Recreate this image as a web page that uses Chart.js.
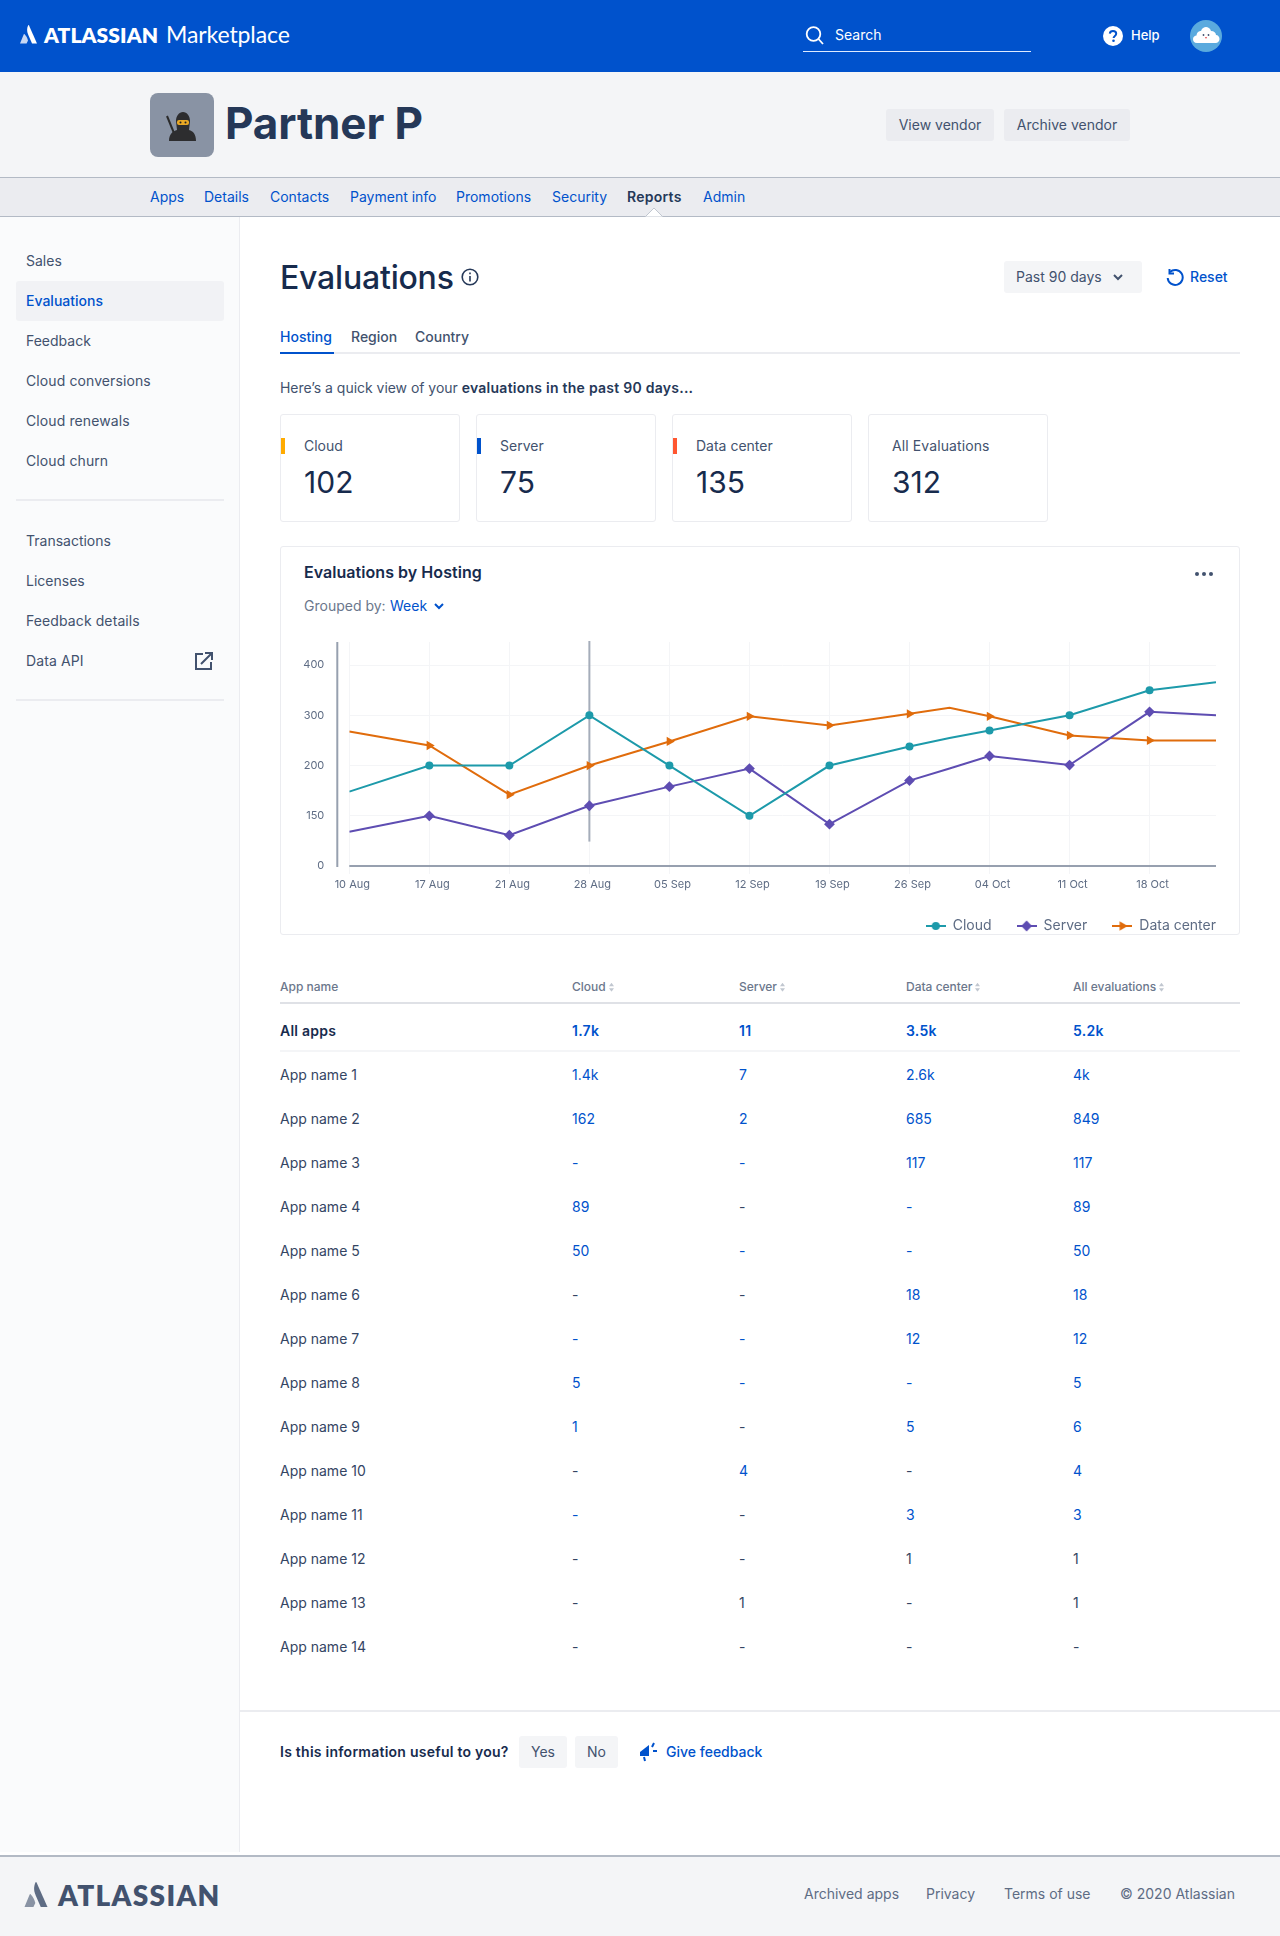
<!DOCTYPE html>
<html lang="en">
<head>
<meta charset="utf-8">
<title>Evaluations</title>
<script src="https://cdn.jsdelivr.net/npm/chart.js@4/dist/chart.umd.min.js"></script>
<style>
  html, body { margin: 0; padding: 0; }
  body { position: relative; width: 1280px; height: 1936px; overflow: hidden; background: #fff;
         font: 14px/1 Inter, "Noto Sans", sans-serif; color: #42526e; }
  .box { position: absolute; }
  .t { position: absolute; transform: translateY(-50%); white-space: nowrap; line-height: 1.2; }
  .blue { color: #0052cc; }
  .dark { color: #172b4d; }
  .med { font-weight: 500; }
  .bold { font-weight: 600; letter-spacing: .25px; }
  .btn { position: absolute; border-radius: 3px; background: #ebecf0; display: flex; align-items: center; justify-content: center; }
  .card { position: absolute; top: 414px; width: 178px; height: 106px; border: 1px solid #ebecf0; border-radius: 3px; background: #fff; }
  .accent { position: absolute; left: 0; top: 23px; width: 4px; height: 16px; }
  .th { font-size: 12px; color: #6b778c; font-weight: 500; }
  .sort { display: inline-block; width: 5px; height: 9px; margin-left: 3px; vertical-align: -1px; }
</style>
</head>
<body>

<!-- top bar -->
<div class="box" style="left:0;top:0;width:1280px;height:72px;background:#0052cc"></div>
<svg class="box" style="left:20px;top:25px" width="17" height="19" viewBox="0 0 17 19"><path d="M8.3 0C6.8 3 6.6 6 8.3 10L12 18.5H17L9 .6C8.7 0 8.4 0 8.3 0Z" fill="#fff"/><path d="M4.6 9.2C4.3 8.8 4 8.8 3.8 9.3L0 18.5H6.6L8 15.500C7.3 12.6 6 10.6 4.6 9.2Z" fill="#c8d8f3"/></svg>
<span class="t" style="left:44px;top:35px;font:800 21px/1.2 Lato,sans-serif;color:#fff;letter-spacing:.1px">ATLASSIAN</span>
<span class="t" style="left:166px;top:35px;font:400 23px/1.2 Lato,sans-serif;color:#fff;letter-spacing:-.1px">Marketplace</span>

<svg class="box" style="left:805px;top:26px" width="20" height="19" viewBox="0 0 20 19" fill="none" stroke="#fff" stroke-width="1.8"><circle cx="8.5" cy="8" r="6.8"/><path d="M13.5 13l4.5 5"/></svg>
<span class="t" style="left:835px;top:35px;color:#fff">Search</span>
<div class="box" style="left:803px;top:51px;width:228px;height:1px;background:#deebff"></div>
<svg class="box" style="left:1103px;top:26px" width="20" height="20" viewBox="0 0 20 20"><circle cx="10" cy="10" r="10" fill="#fff"/><path d="M6.8 7.6C7 5.7 8.4 5 10 5c1.8 0 3.2 1 3.2 2.7 0 2.3-2.6 2.3-2.6 4.4" fill="none" stroke="#0052cc" stroke-width="2"/><circle cx="10.5" cy="14.8" r="1.3" fill="#0052cc"/></svg>
<span class="t med" style="left:1131px;top:36px;color:#fff;font-size:13px">Help</span>
<svg class="box" style="left:1190px;top:20px" width="32" height="32" viewBox="0 0 32 32"><circle cx="16" cy="16" r="16" fill="#5aaade"/><path d="M7 23c-3 0-4-2-4-4s2-3.500 3.500-3.500C7 12 9 11 11 11c1-3 3-4 5-4s4 1 5 4c3 0 5 2 5 4 2 0 3.500 2 3.500 4s-1.500 4-4 4Z" fill="#fff"/><circle cx="13.500" cy="15" r=".9" fill="#42526e"/><circle cx="18.500" cy="15" r=".9" fill="#42526e"/><path d="M15 17h2l-1 2Z" fill="#e5484d"/></svg>

<!-- vendor band -->
<div class="box" style="left:0;top:72px;width:1280px;height:105px;background:#f4f5f7"></div>
<div class="box" style="left:150px;top:93px;width:64px;height:64px;border-radius:8px;background:#8993a4"></div>
<svg class="box" style="left:166px;top:111px" width="32" height="31" viewBox="0 0 32 31"><path d="M1 5l9 22" stroke="#2b2b2b" stroke-width="2"/><path d="M3 30c0-7 4-10 8-11l-1-9c0-5 3-9 7-9s7 4 7 9l-1 9c4 1 7 4 7 11Z" fill="#2d2d2f"/><rect x="11" y="9" width="12" height="5" rx="2" fill="#e9a825"/><circle cx="14.500" cy="11.500" r="1" fill="#222"/><circle cx="19.500" cy="11.500" r="1" fill="#222"/></svg>
<span class="t" style="left:225px;top:123px;font-size:44px;font-weight:700;color:#253858;letter-spacing:-.1px">Partner P</span>
<div class="btn" style="left:886px;top:109px;width:108px;height:32px">View vendor</div>
<div class="btn" style="left:1004px;top:109px;width:126px;height:32px">Archive vendor</div>

<!-- nav -->
<div class="box" style="left:0;top:177px;width:1280px;height:38px;background:#ebecf0;border-top:1px solid #b3bac5;border-bottom:1px solid #b3bac5"></div>
<span class="t blue" style="left:150px;top:197px">Apps</span>
<span class="t blue" style="left:204px;top:197px">Details</span>
<span class="t blue" style="left:270px;top:197px">Contacts</span>
<span class="t blue" style="left:350px;top:197px">Payment info</span>
<span class="t blue" style="left:456px;top:197px">Promotions</span>
<span class="t blue" style="left:552px;top:197px">Security</span>
<span class="t bold" style="left:627px;top:197px;color:#253858">Reports</span>
<span class="t blue" style="left:703px;top:197px">Admin</span>
<svg class="box" style="left:645px;top:207px" width="18" height="10" viewBox="0 0 18 10"><path d="M0 10L9 1l9 9Z" fill="#fff" stroke="#c1c7d0"/></svg>

<!-- sidebar -->
<div class="box" style="left:0;top:217px;width:239px;height:1635px;background:#fafbfc;border-right:1px solid #ebecf0"></div>
<div class="box" style="left:16px;top:281px;width:208px;height:40px;border-radius:3px;background:#f1f2f5"></div>
<span class="t" style="left:26px;top:261px">Sales</span>
<span class="t blue med" style="left:26px;top:301px">Evaluations</span>
<span class="t" style="left:26px;top:341px">Feedback</span>
<span class="t" style="left:26px;top:381px;letter-spacing:.1px">Cloud conversions</span>
<span class="t" style="left:26px;top:421px;letter-spacing:.1px">Cloud renewals</span>
<span class="t" style="left:26px;top:461px;letter-spacing:.1px">Cloud churn</span>
<div class="box" style="left:16px;top:499px;width:208px;height:2px;background:#ebecf0"></div>
<span class="t" style="left:26px;top:541px">Transactions</span>
<span class="t" style="left:26px;top:581px">Licenses</span>
<span class="t" style="left:26px;top:621px;letter-spacing:.1px">Feedback details</span>
<span class="t" style="left:26px;top:661px;letter-spacing:.1px">Data API</span>
<svg class="box" style="left:195px;top:652px" width="18" height="18" viewBox="0 0 18 18" fill="none" stroke="#42526e" stroke-width="2"><path d="M8 2H1v15h15v-7"/><path d="M6 12L16 2M10 1h7v7"/></svg>
<div class="box" style="left:16px;top:699px;width:208px;height:2px;background:#ebecf0"></div>

<!-- page heading -->
<span class="t dark med" style="left:280px;top:278px;font-size:32px;letter-spacing:-.2px">Evaluations</span>
<svg class="box" style="left:461px;top:268px" width="18" height="18" viewBox="0 0 18 18" fill="none" stroke="#253858" stroke-width="1.600"><circle cx="9" cy="9" r="7.800"/><path d="M9 8v5.500"/><path d="M9 4.500v1.800"/></svg>
<div class="btn" style="left:1004px;top:261px;width:138px;height:32px;background:#f4f5f7"></div>
<span class="t" style="left:1016px;top:277px">Past 90 days</span>
<svg class="box" style="left:1113px;top:274px" width="10" height="7" viewBox="0 0 10 7" fill="none" stroke="#42526e" stroke-width="2"><path d="M1 1l4 4 4-4"/></svg>
<svg class="box" style="left:1166px;top:268px" width="18" height="18" viewBox="0 0 18 18" fill="none" stroke="#0052cc" stroke-width="2"><path d="M4 4a7.500 7.500 0 1 1-2.300 6"/><path d="M3.500 1v4.500H8"/></svg>
<span class="t blue med" style="left:1190px;top:277px">Reset</span>

<!-- tabs -->
<div class="box" style="left:280px;top:352px;width:960px;height:2px;background:#ebecf0"></div>
<div class="box" style="left:280px;top:352px;width:54px;height:2px;background:#0052cc"></div>
<span class="t blue med" style="left:280px;top:337px">Hosting</span>
<span class="t med" style="left:351px;top:337px">Region</span>
<span class="t med" style="left:415px;top:337px">Country</span>

<span class="t" style="left:280px;top:388px;letter-spacing:-.03px">Here’s a quick view of your <b class="bold" style="color:#253858">evaluations in the past 90 days...</b></span>

<!-- summary cards -->
<div class="card" style="left:280px"><div class="accent" style="background:#ffab00"></div><span class="t" style="left:23px;top:31px">Cloud</span><span class="t dark" style="left:23px;top:67px;font-size:30px">102</span></div>
<div class="card" style="left:476px"><div class="accent" style="background:#0052cc"></div><span class="t" style="left:23px;top:31px">Server</span><span class="t dark" style="left:23px;top:67px;font-size:30px">75</span></div>
<div class="card" style="left:672px"><div class="accent" style="background:#ff5630"></div><span class="t" style="left:23px;top:31px">Data center</span><span class="t dark" style="left:23px;top:67px;font-size:30px">135</span></div>
<div class="card" style="left:868px"><span class="t" style="left:23px;top:31px;letter-spacing:.1px">All Evaluations</span><span class="t dark" style="left:23px;top:67px;font-size:30px">312</span></div>

<!-- chart card -->
<div class="box" style="left:280px;top:546px;width:958px;height:387px;border:1px solid #ebecf0;border-radius:3px"></div>
<span class="t dark bold" style="left:304px;top:573px;font-size:16px;letter-spacing:.05px">Evaluations by Hosting</span>
<svg class="box" style="left:1194px;top:571px" width="20" height="6" viewBox="0 0 20 6" fill="#42526e"><circle cx="3" cy="3" r="2"/><circle cx="10" cy="3" r="2"/><circle cx="17" cy="3" r="2"/></svg>
<span class="t" style="left:304px;top:606px;color:#6b778c">Grouped by:</span>
<span class="t blue" style="left:390px;top:606px">Week</span>
<svg class="box" style="left:434px;top:603px" width="10" height="7" viewBox="0 0 10 7" fill="none" stroke="#0052cc" stroke-width="2"><path d="M1 1l4 4 4-4"/></svg>
<canvas id="hostingChart" class="box" style="left:281px;top:547px" width="957" height="405"></canvas>

<!-- table -->
<div id="appTable"></div>
<div class="box" style="left:280px;top:1002px;width:960px;height:2px;background:#dfe1e6"></div>
<div class="box" style="left:280px;top:1050px;width:960px;height:2px;background:#f4f5f7"></div>

<!-- feedback -->
<div class="box" style="left:240px;top:1710px;width:1040px;height:2px;background:#ebecf0"></div>
<span class="t bold" style="left:280px;top:1752px;color:#172b4d">Is this information useful to you?</span>
<div class="btn" style="left:519px;top:1736px;width:48px;height:32px;background:#f4f5f7">Yes</div>
<div class="btn" style="left:575px;top:1736px;width:43px;height:32px;background:#f4f5f7">No</div>
<svg class="box" style="left:639px;top:1742px" width="21" height="20" viewBox="0 0 21 20"><path d="M1 10L10 3v11H1Z" fill="#0052cc"/><path d="M13 5l2-4M14 9h4M5 15l1 4" stroke="#0052cc" stroke-width="2" fill="none"/></svg>
<span class="t blue med" style="left:666px;top:1752px">Give feedback</span>

<!-- footer -->
<div class="box" style="left:0;top:1855px;width:1280px;height:81px;background:#f4f5f7;border-top:2px solid #b3bac5;box-sizing:border-box"></div>
<svg class="box" style="left:24px;top:1882px" width="24" height="25" viewBox="0 0 17 18.500"><path d="M8.300 0C6.800 3 6.600 6 8.300 10L12 18.500H17L9 .6C8.700 0 8.400 0 8.300 0Z" fill="#5e6c84"/><path d="M4.600 9.200C4.300 8.800 4 8.800 3.800 9.300L0 18.500H6.600L8 15.500C7.300 12.600 6 10.600 4.600 9.200Z" fill="#8993a4"/></svg>
<span class="t" style="left:58px;top:1896px;font:800 28px/1.2 Lato,sans-serif;color:#42526e;letter-spacing:1.3px">ATLASSIAN</span>
<span class="t" style="left:804px;top:1894px;color:#5e6c84">Archived apps</span>
<span class="t" style="left:926px;top:1894px;color:#5e6c84">Privacy</span>
<span class="t" style="left:1004px;top:1894px;color:#5e6c84">Terms of use</span>
<span class="t" style="left:1120px;top:1894px;color:#5e6c84">© 2020 Atlassian</span>

<script>
// chart data
const xPositions = [0, 1, 2, 3, 4, 5, 6, 7, 7.5, 8, 9, 10, 10.83];
const xTickLabels = ['10 Aug', '17 Aug', '21 Aug', '28 Aug', '05 Sep', '12 Sep', '19 Sep', '26 Sep', '04 Oct', '11 Oct', '18 Oct'];
const yTickValues = [0, 150, 200, 300, 400];
const cloudValues = [174, 200, 200, 300, 200, 150, 200, 238, 255, 270, 300, 350, 366];
const serverValues = [102, 150, 92, 160, 179, 197, 125, 185, 197, 219, 201, 307, 300];
const dataCenterValues = [268, 240, 171, 200, 248, 298, 280, 303, 315, 298, 260, 250, 250];
const seriesNames = ['Cloud', 'Server', 'Data center'];
const cursorTick = 3;

// table data
const tableColumns = ['App name', 'Cloud', 'Server', 'Data center', 'All evaluations'];
const totalRow = ['All apps', '1.7k', '11', '3.5k', '5.2k'];
const appRows = [
    ['App name 1', '1.4k', '7', '2.6k', '4k'],
    ['App name 2', '162', '2', '685', '849'],
    ['App name 3', '-', '-', '117', '117'],
    ['App name 4', '89', '-', '-', '89'],
    ['App name 5', '50', '-', '-', '50'],
    ['App name 6', '-', '-', '18', '18'],
    ['App name 7', '-', '-', '12', '12'],
    ['App name 8', '5', '-', '-', '5'],
    ['App name 9', '1', '-', '5', '6'],
    ['App name 10', '-', '4', '-', '4'],
    ['App name 11', '-', '-', '3', '3'],
    ['App name 12', '-', '-', '1', '1'],
    ['App name 13', '-', '1', '-', '1'],
    ['App name 14', '-', '-', '-', '-']
];
// cells that are plain text and not links, "row:column"
const plainCells = ['3:2', '5:1', '5:2', '8:2', '9:1', '9:3', '10:2', '11:1', '11:2', '11:3', '11:4',
    '12:1', '12:2', '12:3', '12:4', '13:1', '13:2', '13:3', '13:4'];

// ------------------------------------------------------------
// TABLE
// ------------------------------------------------------------
const columnLeft = [280, 572, 739, 906, 1073];
let tableHtml = '';
const sortIcon = '<svg class="sort" viewBox="0 0 5 9" fill="#c1c7d0"><path d="M2.5 0L5 3.500H0ZM2.500 9L0 5.500H5Z"/></svg>';
tableColumns.forEach(function(name, c) {
    tableHtml += '<span class="t th" style="left:' + columnLeft[c] + 'px;top:987px">' + name + (c ? sortIcon : '') + '</span>';
});
totalRow.forEach(function(cell, c) {
    tableHtml += '<span class="t bold ' + (c ? 'blue' : 'dark') + '" style="left:' + columnLeft[c] + 'px;top:1031px">' + cell + '</span>';
});
appRows.forEach(function(row, r) {
    row.forEach(function(cell, c) {
        const linked = c > 0 && !plainCells.includes(r + ':' + c);
        tableHtml += '<span class="t" style="left:' + columnLeft[c] + 'px;top:' + (1075 + r * 44) +
            'px;color:' + (linked ? '#0052cc' : '#344563') + '">' + cell + '</span>';
    });
});
document.getElementById('appTable').innerHTML = tableHtml;

// ------------------------------------------------------------
// CHART
// ------------------------------------------------------------
// the y axis is not linear: its labelled values sit at equal distances
function axisPosition(value) {
    let i = 0;
    while (i < yTickValues.length - 2 && value >= yTickValues[i + 1]) i++;
    return i + (value - yTickValues[i]) / (yTickValues[i + 1] - yTickValues[i]);
}

function toPoints(values) {
    return values.map(function(value, i) {
        return { x: xPositions[i], y: axisPosition(value) };
    });
}

function markerOnly(radius) {
    return function(ctx) {
        const x = xPositions[ctx.dataIndex];
        return Number.isInteger(x) && x > 0 ? radius : 0;
    };
}

function legendSwatch(color, style, radius, rotation) {
    const swatch = document.createElement('canvas');
    swatch.width = 20;
    swatch.height = 12;
    const c = swatch.getContext('2d');
    c.strokeStyle = color;
    c.fillStyle = color;
    c.lineWidth = 2;
    c.beginPath();
    c.moveTo(0, 6);
    c.lineTo(20, 6);
    c.stroke();
    Chart.helpers.drawPoint(c, { pointStyle: style, radius: radius, rotation: rotation, borderWidth: 0 }, 10, 6);
    return swatch;
}

const legendPadding = 25;

const axisLines = {
    id: 'axisLines',
    // the legend keeps a padding after its last item, let it end on the plot's right edge
    afterLayout: function(chart) {
        chart.legend.right = chart.chartArea.right + legendPadding;
    },
    beforeDatasetsDraw: function(chart) {
        const ctx = chart.ctx;
        const area = chart.chartArea;
        const cursorX = chart.scales.x.getPixelForValue(cursorTick);
        ctx.save();
        ctx.strokeStyle = '#97a0af';
        ctx.lineWidth = 2;
        ctx.beginPath();
        ctx.moveTo(area.left - 12, area.top);
        ctx.lineTo(area.left - 12, area.bottom + 1);
        ctx.moveTo(area.left, area.bottom);
        ctx.lineTo(area.right, area.bottom);
        ctx.stroke();
        ctx.strokeStyle = '#a5adba';
        ctx.beginPath();
        ctx.moveTo(cursorX, area.top - 1);
        ctx.lineTo(cursorX, chart.scales.y.getPixelForValue(0.486));
        ctx.stroke();
        ctx.restore();
    }
};

const lineColors = ['#1d9aaa', '#5e4db2', '#e06c0c'];
const markerStyles = [
    { pointStyle: 'circle', pointRadius: 4, pointRotation: 0 },
    { pointStyle: 'rectRot', pointRadius: 5.4, pointRotation: 0 },
    { pointStyle: 'triangle', pointRadius: 5.4, pointRotation: 90 }
];
const allValues = [cloudValues, serverValues, dataCenterValues];

new Chart(document.getElementById('hostingChart'), {
    type: 'line',
    data: {
        datasets: seriesNames.map(function(name, i) {
            return {
                label: name,
                data: toPoints(allValues[i]),
                borderColor: lineColors[i],
                backgroundColor: lineColors[i],
                borderWidth: 2,
                tension: 0,
                pointStyle: markerStyles[i].pointStyle,
                pointRotation: markerStyles[i].pointRotation,
                pointRadius: markerOnly(markerStyles[i].pointRadius),
                pointBorderWidth: 0
            };
        })
    },
    plugins: [axisLines],
    options: {
        responsive: false,
        animation: false,
        events: [],
        layout: { padding: { top: 95, right: 22, bottom: 9, left: 0 } },
        plugins: {
            tooltip: { enabled: false },
            legend: {
                position: 'bottom',
                align: 'end',
                labels: {
                    usePointStyle: true,
                    pointStyleWidth: 20,
                    padding: legendPadding,
                    color: '#5e6c84',
                    font: { family: 'Inter', size: 14 },
                    generateLabels: function(chart) {
                        return Chart.defaults.plugins.legend.labels.generateLabels(chart).map(function(item, i) {
                            const m = markerStyles[i];
                            item.pointStyle = legendSwatch(lineColors[i], m.pointStyle, m.pointRadius, m.pointRotation);
                            item.rotation = 0;
                            return item;
                        });
                    }
                }
            }
        },
        scales: {
            x: {
                type: 'linear',
                min: 0,
                max: 10.83,
                afterFit: function(scale) { scale.height = 28; },
                border: { display: false },
                grid: { color: '#f4f5f7', tickLength: 8, tickColor: '#f4f5f7' },
                ticks: {
                    stepSize: 1,
                    includeBounds: false,
                    autoSkip: false,
                    maxRotation: 0,
                    padding: 4,
                    labelOffset: 3,
                    color: '#5e6c84',
                    font: { family: 'Inter', size: 11 },
                    callback: function(value) { return xTickLabels[value]; }
                }
            },
            y: {
                min: 0,
                max: 4.46,
                afterFit: function(scale) { scale.width = 68.3; },
                border: { display: false },
                grid: { color: '#f4f5f7', drawTicks: false },
                ticks: {
                    stepSize: 1,
                    includeBounds: false,
                    padding: 25,
                    color: '#5e6c84',
                    font: { family: 'Inter', size: 11 },
                    callback: function(value) { return yTickValues[value]; }
                }
            }
        }
    }
});
</script>
</body>
</html>
